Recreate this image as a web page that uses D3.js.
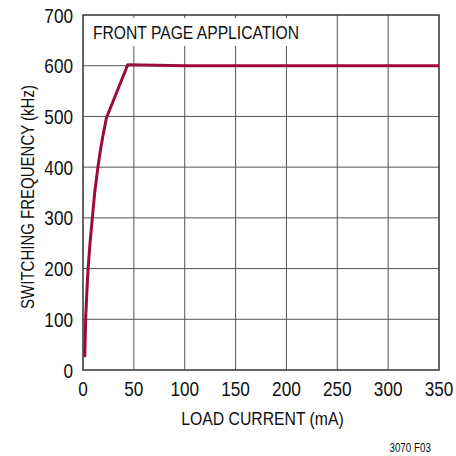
<!DOCTYPE html>
<html>
<head>
<meta charset="utf-8">
<script src="https://cdn.jsdelivr.net/npm/d3@7"></script>
<style>
  html, body { margin: 0; padding: 0; background: #fff; }
  svg text { font-family: "Liberation Sans", Arial, sans-serif; fill: #111; }
</style>
</head>
<body>
<svg id="chart" width="456" height="456"></svg>
<script>
// Switching frequency versus load current
const loadCurrent = [1.7, 2.6, 3.7, 5, 6.9, 9.2, 11.5, 14.7, 17, 19.6, 23, 44, 100, 200, 350];
const frequency   = [25, 100, 150, 200, 250, 300, 350, 400, 432, 462, 497, 602, 600, 600, 600];
const xTicks = [0, 50, 100, 150, 200, 250, 300, 350];
const yTicks = [0, 100, 200, 300, 400, 500, 600, 700];

const svg = d3.select("#chart");
const m = { left: 83, top: 15, right: 439, bottom: 370 };

const x = d3.scaleLinear().domain([0, 350]).range([m.left, m.right]);
const y = d3.scaleLinear().domain([0, 700]).range([m.bottom, m.top]);

// condensed text: horizontal squeeze of a regular sans face
function label(px, py, str, size, sx, anchor, rot) {
  const g = svg.append("g")
    .attr("transform", `translate(${px},${py})` + (rot ? ` rotate(${rot})` : "") + ` scale(${sx},1)`);
  g.append("text")
    .attr("font-size", size)
    .attr("text-anchor", anchor || "start")
    .text(str);
  return g;
}

// grid
svg.append("g").selectAll("line").data(xTicks.slice(1, -1)).join("line")
  .attr("x1", d => x(d)).attr("x2", d => x(d))
  .attr("y1", m.top).attr("y2", m.bottom)
  .attr("stroke", "#555").attr("stroke-width", 1);
svg.append("g").selectAll("line").data(yTicks.slice(1, -1)).join("line")
  .attr("x1", m.left).attr("x2", m.right)
  .attr("y1", d => y(d)).attr("y2", d => y(d))
  .attr("stroke", "#555").attr("stroke-width", 1);

// title panel inside plot
svg.append("rect")
  .attr("x", 88).attr("y", 18)
  .attr("width", 217).attr("height", 28)
  .attr("fill", "#fff");
label(93, 39, "FRONT PAGE APPLICATION", 18, 0.87, "start");

// frame
svg.append("rect")
  .attr("x", m.left).attr("y", m.top)
  .attr("width", m.right - m.left).attr("height", m.bottom - m.top)
  .attr("fill", "none").attr("stroke", "#333").attr("stroke-width", 1.5);

// curve
const pts = loadCurrent.map((c, i) => [c, frequency[i]]);
svg.append("path")
  .datum(pts)
  .attr("fill", "none")
  .attr("stroke", "#9b0b3b")
  .attr("stroke-width", 3)
  .attr("stroke-linejoin", "round")
  .attr("d", d3.line().x(d => x(d[0])).y(d => y(d[1])));

// tick labels
xTicks.forEach(d => label(x(d), 396, d, 19.5, 0.88, "middle"));
yTicks.forEach(d => label(73, y(d) + 7.5, d, 19.5, 0.88, "end"));

// axis titles
label(262.5, 425, "LOAD CURRENT (mA)", 19, 0.83, "middle");
label(33.5, 197, "SWITCHING FREQUENCY (kHz)", 19, 0.79, "middle", -90);

label(431, 451.5, "3070 F03", 12, 0.82, "end");
</script>
</body>
</html>
